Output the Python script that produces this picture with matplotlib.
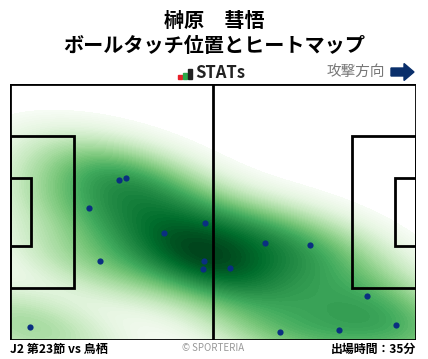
import numpy as np
import matplotlib
matplotlib.use("Agg")
import matplotlib.pyplot as plt
from matplotlib.patches import Rectangle, FancyArrow

plt.rcParams['font.family'] = ['Noto Sans CJK JP', 'DejaVu Sans']

# touch positions (pitch coords, 105 x 68, attacking right)
touch_x = [28.3, 30.1, 20.5, 39.9, 50.5, 23.4, 50.3, 50.0, 5.3, 66.0, 77.7, 57.0, 92.2, 69.7, 85.2, 99.7]
touch_y = [42.4, 43.0, 35.0, 28.3, 31.0, 20.9, 20.9, 18.8, 3.4, 25.7, 25.2, 19.1, 11.6, 2.1, 2.6, 3.9]

title_name = "榊原　彗悟"
title_sub = "ボールタッチ位置とヒートマップ"
match_label = "J2 第23節 vs 鳥栖"
minutes_label = "出場時間：35分"

L, W = 105.0, 68.0

fig = plt.figure(figsize=(4.28, 3.59), dpi=100)
ax = fig.add_axes([10/428, 19/359, 406/428, 256/359])
ax.set_xlim(0, L)
ax.set_ylim(0, W)
ax.set_aspect('auto')
ax.axis('off')

# gaussian KDE (Scott's rule scaled, full covariance)
pts = np.vstack([touch_x, touch_y])
n = pts.shape[1]
bw = 0.85 * n ** (-1.0 / 6.0)
cov = np.cov(pts) * bw ** 2
inv = np.linalg.inv(cov)
gx, gy = np.meshgrid(np.linspace(0, L, 300), np.linspace(0, W, 200))
d = np.stack([gx.ravel(), gy.ravel()])
z = np.zeros(d.shape[1])
for i in range(n):
    diff = d - pts[:, i:i+1]
    z += np.exp(-0.5 * np.sum(diff * (inv @ diff), axis=0))
z = z.reshape(gx.shape)
z /= z.max()
z = z ** 0.6
levels = np.linspace(0.09, 1.0, 70)
ax.contourf(gx, gy, z, levels=levels, cmap='Greens', zorder=1)

lw = 2
kw = dict(fill=False, ec='black', lw=lw, zorder=3)
ax.add_patch(Rectangle((0, 0), L, W, **kw))
ax.plot([L/2, L/2], [0, W], color='black', lw=lw, zorder=3)
pb_w, pb_h = 16.5, 40.3
ga_w, ga_h = 5.5, 18.3
ax.add_patch(Rectangle((0, (W-pb_h)/2), pb_w, pb_h, **kw))
ax.add_patch(Rectangle((L-pb_w, (W-pb_h)/2), pb_w, pb_h, **kw))
ax.add_patch(Rectangle((0, (W-ga_h)/2), ga_w, ga_h, **kw))
ax.add_patch(Rectangle((L-ga_w, (W-ga_h)/2), ga_w, ga_h, **kw))

ax.scatter(touch_x, touch_y, s=20, color='#0a2f80', zorder=4, linewidths=0)

fig.text(0.5, 1 - 20/359, title_name, ha='center', va='center', fontsize=14.5, fontweight='bold')
fig.text(0.5, 1 - 46/359, title_sub, ha='center', va='center', fontsize=14.5, fontweight='bold')

# STATs logo
bars = [(178, 4, '#e8202a'), (183, 6, '#2aa84a'), (188, 10, '#222222')]
for bx, bh, bc in bars:
    fig.patches.append(Rectangle((bx/428, (359-79)/359), 3.5/428, bh/359, color=bc, transform=fig.transFigure))
fig.text(195/428, 1 - 73/359, "STATs", ha='left', va='center', fontsize=12, fontweight='bold', color='#222222')

fig.text(385/428, 1 - 72/359, "攻撃方向", ha='right', va='center', fontsize=10.5, color='#777777')
fig.patches.append(FancyArrow(391/428, (359-72)/359, 13/428, 0, width=8/359, head_width=17/359,
                              head_length=10/428, length_includes_head=False, color='#0a2f6b',
                              transform=fig.transFigure))

fig.text(10/428, 1 - 349/359, match_label, ha='left', va='center', fontsize=8.7, fontweight='bold')
fig.text(213/428, 1 - 348/359, "© SPORTERIA", ha='center', va='center', fontsize=7, color='#999999')
fig.text(416/428, 1 - 349/359, minutes_label, ha='right', va='center', fontsize=8.6, fontweight='bold')

fig.savefig('out.png', dpi=100)
